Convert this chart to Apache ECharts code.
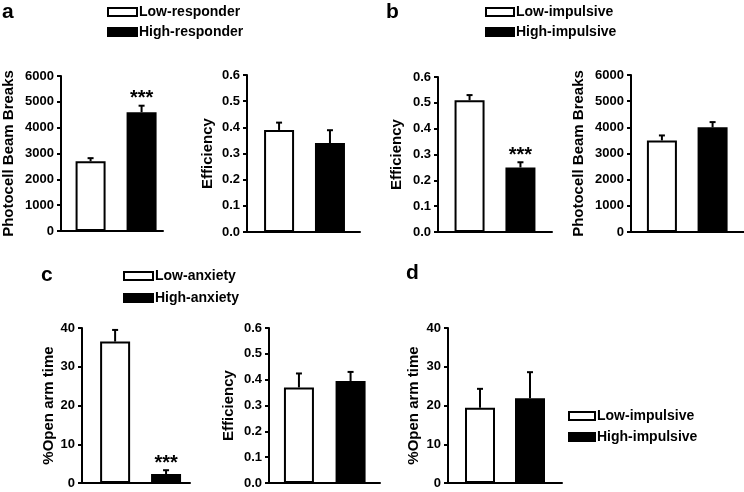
<!DOCTYPE html>
<html>
<head>
<meta charset="utf-8">
<script src="https://cdn.jsdelivr.net/npm/echarts@6/dist/echarts.min.js"></script>
<style>
  html, body { margin: 0; padding: 0; background: #fff; }
  #main { width: 744px; height: 492px; }
</style>
</head>
<body>
<div id="main"></div>
<script>
// groups
var groupsA = ['Low-responder', 'High-responder'];
var groupsB = ['Low-impulsive', 'High-impulsive'];
var groupsC = ['Low-anxiety', 'High-anxiety'];
var groupsD = ['Low-impulsive', 'High-impulsive'];

// means / SEM
var aBeamMean = [2700, 4600];
var aBeamErr = [120, 250];
var aEffMean = [0.39, 0.34];
var aEffErr = [0.028, 0.049];
var bEffMean = [0.51, 0.25];
var bEffErr = [0.02, 0.02];
var bBeamMean = [3500, 4000];
var bBeamErr = [190, 200];
var cOpenMean = [36.5, 2.3];
var cOpenErr = [3.0, 1.0];
var cEffMean = [0.37, 0.395];
var cEffErr = [0.054, 0.035];
var dOpenMean = [19.4, 21.9];
var dOpenErr = [4.9, 6.7];

var sigA = ['', '***'];
var sigB = ['', '***'];
var sigC = ['', '***'];
var sigNone = ['', ''];

var FONT = 'Liberation Sans';
var myChart = echarts.init(document.getElementById('main'));

var grids = [], xAxes = [], yAxes = [], series = [];

function addPanel(p) {
  var i = grids.length;
  grids.push({ left: p.left, top: p.top, width: p.width, height: p.height });
  xAxes.push({
    gridIndex: i, type: 'value', min: p.xmin, max: p.xmax,
    axisLine: { show: true, onZero: false, lineStyle: { color: '#000', width: 2 } },
    axisTick: { show: false }, axisLabel: { show: false }, splitLine: { show: false }
  });
  yAxes.push({
    gridIndex: i, type: 'value', min: 0, max: p.ymax, interval: p.interval,
    name: p.name, nameLocation: 'middle', nameGap: p.nameGap,
    nameTextStyle: { fontFamily: FONT, fontSize: 15, fontWeight: 'bold', color: '#000' },
    axisLine: { show: true, onZero: false, lineStyle: { color: '#000', width: 2 } },
    axisTick: { show: true, length: 4, lineStyle: { color: '#000', width: 2 } },
    axisLabel: {
      margin: 7, fontFamily: FONT, fontSize: 13, fontWeight: 'bold', color: '#000',
      formatter: function (v) { return p.decimals ? v.toFixed(p.decimals) : String(v); }
    },
    splitLine: { show: false }
  });
  var colors = ['#fff', '#000'];
  p.groups.forEach(function (g, k) {
    series.push({
      type: 'bar', name: g, xAxisIndex: i, yAxisIndex: i,
      barWidth: 30, barGap: '-100%',
      itemStyle: { color: colors[k], borderColor: '#000', borderWidth: 2 },
      data: [[k, p.mean[k]]]
    });
  });
  var sig = p.sig;
  series.push({
    type: 'custom', xAxisIndex: i, yAxisIndex: i, clip: false, z: 5,
    data: p.mean.map(function (m, k) { return [k, m, p.err[k]]; }),
    renderItem: function (params, api) {
      var x = api.value(0), v = api.value(1), e = api.value(2);
      var p0 = api.coord([x, v]);
      var p1 = api.coord([x, v + e]);
      var st = { stroke: '#000', lineWidth: 2 };
      var kids = [
        { type: 'line', shape: { x1: p0[0], y1: p0[1], x2: p1[0], y2: p1[1] }, style: st },
        { type: 'line', shape: { x1: p1[0] - 3, y1: p1[1], x2: p1[0] + 3, y2: p1[1] }, style: st }
      ];
      var s = sig[params.dataIndex];
      if (s) {
        kids.push({
          type: 'text', x: p1[0], y: p1[1] - 7,
          style: { text: s, fontFamily: FONT, fontSize: 20, fontWeight: 'bold', fill: '#000',
                   align: 'center', verticalAlign: 'middle' }
        });
      }
      return { type: 'group', children: kids };
    }
  });
}

addPanel({ left: 61, top: 76, width: 102, height: 155, xmin: -0.58, xmax: 1.42,
  ymax: 6000, interval: 1000, decimals: 0, name: 'Photocell Beam Breaks', nameGap: 45,
  groups: groupsA, mean: aBeamMean, err: aBeamErr, sig: sigA });
addPanel({ left: 247, top: 75, width: 113, height: 157, xmin: -0.63, xmax: 1.59,
  ymax: 0.6, interval: 0.1, decimals: 1, name: 'Efficiency', nameGap: 32,
  groups: groupsA, mean: aEffMean, err: aEffErr, sig: sigNone });
addPanel({ left: 438, top: 77, width: 114, height: 155, xmin: -0.62, xmax: 1.62,
  ymax: 0.6, interval: 0.1, decimals: 1, name: 'Efficiency', nameGap: 34,
  groups: groupsB, mean: bEffMean, err: bEffErr, sig: sigB });
addPanel({ left: 631, top: 75, width: 113, height: 157, xmin: -0.61, xmax: 1.62,
  ymax: 6000, interval: 1000, decimals: 0, name: 'Photocell Beam Breaks', nameGap: 45,
  groups: groupsB, mean: bBeamMean, err: bBeamErr, sig: sigNone });
addPanel({ left: 82, top: 328, width: 108, height: 155, xmin: -0.65, xmax: 1.47,
  ymax: 40, interval: 10, decimals: 0, name: '%Open arm time', nameGap: 26,
  groups: groupsC, mean: cOpenMean, err: cOpenErr, sig: sigC });
addPanel({ left: 269, top: 328, width: 111, height: 155, xmin: -0.58, xmax: 1.57,
  ymax: 0.6, interval: 0.1, decimals: 1, name: 'Efficiency', nameGap: 33,
  groups: groupsC, mean: cEffMean, err: cEffErr, sig: sigNone });
addPanel({ left: 448, top: 328, width: 114, height: 155, xmin: -0.64, xmax: 1.64,
  ymax: 40, interval: 10, decimals: 0, name: '%Open arm time', nameGap: 27,
  groups: groupsD, mean: dOpenMean, err: dOpenErr, sig: sigNone });

function legendAt(left, top, names, w, gap) {
  return {
    orient: 'vertical', left: left, top: top, data: names, icon: 'rect', padding: 0,
    itemWidth: w, itemHeight: 8, itemGap: gap, selectedMode: false,
    textStyle: { fontFamily: FONT, fontSize: 14, fontWeight: 'bold', color: '#000', padding: [0, 0, 0, -3] }
  };
}

var letterStyle = { fontFamily: FONT, fontSize: 21, fontWeight: 'bold', fill: '#000' };

var option = {
  animation: false,
  backgroundColor: '#fff',
  grid: grids,
  xAxis: xAxes,
  yAxis: yAxes,
  legend: [
    legendAt(107, 5, groupsA, 29, 6),
    legendAt(485, 5, groupsB, 28, 6),
    legendAt(123, 269, groupsC, 29, 8),
    legendAt(568, 409, groupsD, 26, 7)
  ],
  graphic: [
    { type: 'text', left: 2, top: 2, style: Object.assign({ text: 'a' }, letterStyle) },
    { type: 'text', left: 386, top: 2, style: Object.assign({ text: 'b' }, letterStyle) },
    { type: 'text', left: 41, top: 265, style: Object.assign({ text: 'c' }, letterStyle) },
    { type: 'text', left: 406, top: 263, style: Object.assign({ text: 'd' }, letterStyle) }
  ],
  series: series
};
myChart.setOption(option);
</script>
</body>
</html>
